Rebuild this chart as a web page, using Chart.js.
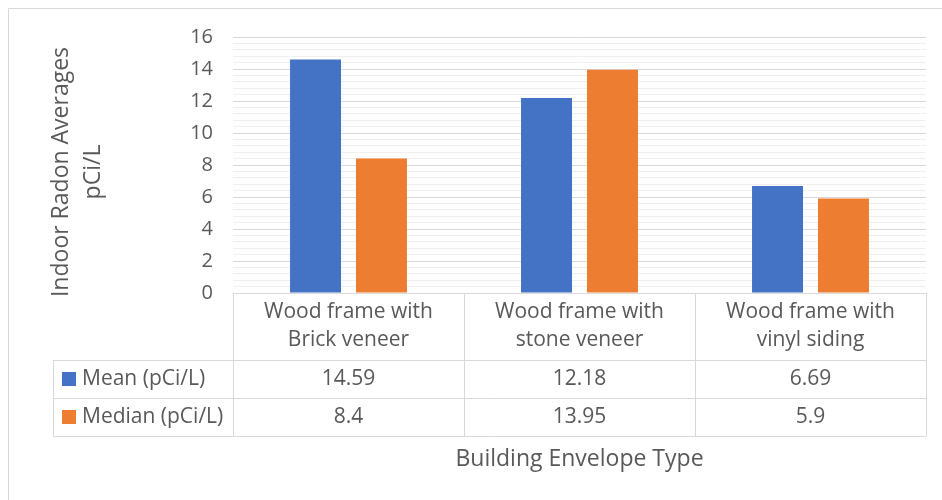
<!DOCTYPE html>
<html>
<head>
<meta charset="utf-8">
<script src="https://cdn.jsdelivr.net/npm/chart.js@4.4.1/dist/chart.umd.min.js"></script>
<style>
  html, body { margin: 0; padding: 0; background: #ffffff; }
  #wrap { width: 942px; height: 500px; position: relative; }
</style>
</head>
<body>
<div id="wrap"><canvas id="radonChart"></canvas></div>
<script>
const categories = [
    ['Wood frame with', 'Brick veneer'],
    ['Wood frame with', 'stone veneer'],
    ['Wood frame with', 'vinyl siding'],
];
const seriesNames = ['Mean (pCi/L)', 'Median (pCi/L)'];
const meanValues = [14.59, 12.18, 6.69];
const medianValues = [8.4, 13.95, 5.9];
const yMin = 0;
const yMax = 16;
const yMajorStep = 2;
const yMinorStep = 0.4;
const yTitle = ['Indoor Radon Averages', 'pCi/L'];
const xTitle = 'Building Envelope Type';

const FONT_FAMILY = "'Open Sans', 'Noto Sans', sans-serif";
const TEXT = '#595959';
const LINE = '#d9d9d9';
const MINOR = '#efefef';
const COLORS = ['#4472c4', '#ed7d31'];

function isMajor(v) {
    const r = v / yMajorStep;
    return Math.abs(r - Math.round(r)) < 1e-6;
}

// data table + axis titles + outer frame, Excel style
const tablePlugin = {
    id: 'dataTable',
    afterDraw(chart) {
        const { ctx, chartArea: area, scales: { x } } = chart;
        const top = area.bottom;
        const headerBottom = top + 67;
        const rowH = 38;
        const tableBottom = headerBottom + rowH * chart.data.datasets.length;
        const legendLeft = 53;
        const colW = (area.right - area.left) / chart.data.labels.length;

        ctx.save();
        ctx.strokeStyle = LINE;
        ctx.lineWidth = 1;

        // outer chart frame (left + top edges visible)
        ctx.beginPath();
        ctx.moveTo(8.5, chart.height);
        ctx.lineTo(8.5, 8.5);
        ctx.lineTo(chart.width, 8.5);
        ctx.stroke();

        // horizontal lines
        ctx.beginPath();
        ctx.moveTo(area.left, top + 0.5);
        ctx.lineTo(area.right, top + 0.5);
        for (let i = 0; i <= chart.data.datasets.length; i++) {
            const y = Math.round(headerBottom + rowH * i) + 0.5;
            ctx.moveTo(legendLeft, y);
            ctx.lineTo(area.right, y);
        }
        // vertical lines
        for (let i = 0; i <= chart.data.labels.length; i++) {
            const xx = Math.round(area.left + colW * i) + 0.5;
            ctx.moveTo(xx, top);
            ctx.lineTo(xx, tableBottom);
        }
        ctx.moveTo(legendLeft + 0.5, headerBottom);
        ctx.lineTo(legendLeft + 0.5, tableBottom);
        ctx.stroke();

        ctx.fillStyle = TEXT;
        ctx.font = `21px ${FONT_FAMILY}`;
        ctx.textAlign = 'center';
        ctx.textBaseline = 'middle';

        // category header cells
        chart.data.labels.forEach((lab, i) => {
            const cx = x.getPixelForValue(i);
            lab.forEach((line, j) => {
                ctx.fillText(line, cx, top + 19 + j * 28);
            });
        });

        // value rows with legend keys
        chart.data.datasets.forEach((ds, r) => {
            const cy = headerBottom + rowH * r + rowH / 2;
            ctx.fillStyle = ds.backgroundColor;
            ctx.fillRect(62, cy - 7, 14, 14);
            ctx.fillStyle = TEXT;
            ctx.textAlign = 'left';
            ctx.fillText(ds.label, 82, cy);
            ctx.textAlign = 'center';
            ds.data.forEach((v, i) => {
                ctx.fillText(String(v), x.getPixelForValue(i), cy);
            });
        });

        // x axis title
        ctx.font = `23px ${FONT_FAMILY}`;
        ctx.fillText(xTitle, (area.left + area.right) / 2, 459);

        // y axis title, rotated
        ctx.translate(77, 172);
        ctx.rotate(-Math.PI / 2);
        yTitle.forEach((line, j) => {
            ctx.fillText(line, 0, -16 + j * 32);
        });
        ctx.restore();
    }
};

new Chart(document.getElementById('radonChart'), {
    type: 'bar',
    data: {
        labels: categories,
        datasets: [
            { label: seriesNames[0], data: meanValues, backgroundColor: COLORS[0] },
            { label: seriesNames[1], data: medianValues, backgroundColor: COLORS[1] },
        ]
    },
    options: {
        responsive: true,
        maintainAspectRatio: false,
        animation: false,
        datasets: {
            bar: { categoryPercentage: 0.571, barPercentage: 0.773 }
        },
        layout: { padding: { top: 37, right: 16, bottom: 207, left: 0 } },
        plugins: {
            legend: { display: false },
            tooltip: { enabled: false },
        },
        scales: {
            x: { display: false },
            y: {
                min: yMin,
                max: yMax,
                afterFit: (s) => { s.width = 233; },
                border: { display: false },
                grid: {
                    drawTicks: false,
                    color: (c) => isMajor(c.tick.value) ? LINE : MINOR,
                },
                ticks: {
                    stepSize: yMinorStep,
                    autoSkip: false,
                    padding: 20,
                    color: TEXT,
                    font: { family: FONT_FAMILY, size: 20 },
                    callback: (v) => isMajor(v) ? String(Math.round(v)) : '',
                },
            },
        },
    },
    plugins: [tablePlugin],
});
</script>
</body>
</html>
